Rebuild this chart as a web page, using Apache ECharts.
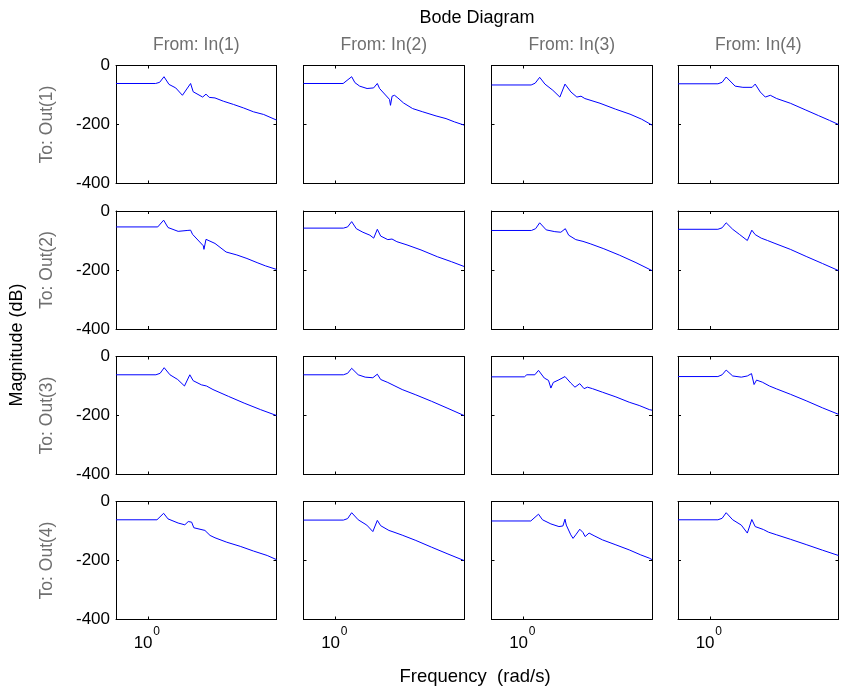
<!DOCTYPE html>
<html><head><meta charset="utf-8">
<script src="https://cdn.jsdelivr.net/npm/echarts@6/dist/echarts.min.js"></script>
<style>html,body{margin:0;padding:0;background:#fff}#c{width:841px;height:688px}</style>
</head><body><div id="c"></div>
<script>
// Frequency (rad/s) and magnitude (dB) pairs, one array per I/O pair
const m11 = [[0.562,-61],[1.145,-61],[1.230,-57],[1.330,-38],[1.454,-64],[1.641,-76],[1.851,-101],[2.143,-61],[2.244,-89],[2.661,-107],[2.825,-97],[2.992,-108],[3.319,-110],[3.855,-121],[4.624,-132],[5.546,-144],[6.622,-157],[7.943,-166],[10,-185]];
const m12 = [[0.562,-61],[1.145,-61],[1.334,-38],[1.413,-58],[1.540,-70],[1.758,-78],[1.977,-76],[2.113,-61],[2.200,-78],[2.630,-115],[2.676,-135],[2.754,-104],[2.877,-101],[3.055,-110],[3.381,-127],[3.981,-146],[4.772,-157],[6.060,-171],[7.244,-180],[8.414,-191],[10,-202]];
const m13 = [[0.562,-66],[1.145,-66],[1.230,-60],[1.334,-40],[1.466,-63],[1.689,-84],[1.916,-107],[2.101,-63],[2.339,-90],[2.600,-107],[2.800,-104],[3.000,-112],[3.936,-128],[5.200,-148],[6.745,-165],[8.300,-182],[10,-202]];
const m14 = [[0.562,-62],[1.150,-62],[1.240,-57],[1.334,-39],[1.567,-70],[1.800,-74],[2.126,-74],[2.244,-63],[2.460,-90],[2.692,-107],[2.944,-101],[3.300,-112],[4.217,-128],[5.500,-150],[7.000,-170],[8.500,-186],[10,-200]];
const m21 = [[0.562,-54],[1.189,-54],[1.321,-31],[1.429,-56],[1.714,-69],[2.013,-66],[2.143,-65],[2.218,-79],[2.692,-118],[2.723,-130],[2.825,-96],[3.319,-110],[4.051,-139],[4.910,-149],[5.888,-161],[7.063,-175],[8.204,-186],[10,-198]];
const m22 = [[0.562,-58],[1.150,-58],[1.240,-54],[1.334,-36],[1.450,-60],[1.631,-72],[1.850,-82],[1.980,-92],[2.113,-62],[2.244,-85],[2.550,-97],[2.750,-95],[3.000,-104],[3.600,-115],[4.624,-132],[6.200,-155],[8.000,-172],[10,-188]];
const m23 = [[0.562,-66],[1.150,-66],[1.240,-60],[1.334,-40],[1.500,-64],[1.750,-70],[1.950,-72],[2.113,-60],[2.244,-82],[2.550,-97],[2.900,-103],[3.300,-111],[4.217,-128],[5.600,-150],[7.500,-175],[10,-202]];
const m24 = [[0.562,-62],[1.150,-62],[1.240,-57],[1.334,-40],[1.500,-62],[1.700,-80],[1.950,-100],[2.113,-65],[2.244,-80],[2.500,-92],[2.800,-100],[3.200,-110],[4.217,-130],[5.600,-154],[7.500,-178],[10,-202]];
const m31 = [[0.562,-62],[1.150,-62],[1.240,-57],[1.334,-38],[1.480,-62],[1.700,-78],[1.920,-100],[2.113,-62],[2.244,-82],[2.600,-96],[2.850,-100],[3.200,-112],[4.217,-135],[5.600,-158],[7.500,-180],[10,-200]];
const m32 = [[0.562,-62],[1.150,-62],[1.240,-57],[1.334,-40],[1.500,-62],[1.700,-70],[1.950,-72],[2.113,-60],[2.244,-78],[2.550,-88],[2.900,-100],[3.300,-112],[4.217,-130],[5.600,-152],[7.500,-176],[10,-200]];
const m33 = [[0.562,-69],[1.014,-69],[1.059,-62],[1.223,-62],[1.306,-47],[1.449,-73],[1.563,-81],[1.631,-107],[1.703,-88],[1.884,-79],[2.101,-68],[2.331,-90],[2.512,-104],[2.738,-92],[2.958,-109],[3.144,-104],[3.436,-109],[4.111,-121],[5.236,-137],[6.645,-155],[7.943,-166],[9.528,-180],[10,-182]];
const m34 = [[0.562,-68],[1.150,-68],[1.240,-62],[1.334,-46],[1.500,-66],[1.750,-70],[1.950,-66],[2.101,-58],[2.200,-95],[2.300,-80],[2.550,-87],[2.900,-100],[3.300,-110],[4.217,-128],[5.600,-150],[7.500,-174],[10,-196]];
const m41 = [[0.562,-62],[1.172,-62],[1.321,-40],[1.429,-59],[1.714,-73],[1.932,-79],[2.054,-68],[2.183,-70],[2.270,-89],[2.770,-98],[3.037,-115],[3.319,-123],[4.098,-138],[5.218,-152],[6.622,-168],[8.463,-183],[10,-197]];
const m42 = [[0.562,-63],[1.150,-63],[1.240,-58],[1.334,-38],[1.500,-62],[1.750,-80],[1.950,-102],[2.113,-64],[2.244,-82],[2.600,-98],[2.850,-104],[3.300,-114],[4.217,-132],[5.600,-155],[7.500,-178],[10,-200]];
const m43 = [[0.562,-66],[1.138,-66],[1.306,-43],[1.404,-62],[1.631,-76],[1.884,-85],[2.023,-83],[2.101,-60],[2.150,-80],[2.331,-113],[2.427,-125],[2.547,-113],[2.738,-94],[2.900,-105],[3.013,-119],[3.236,-107],[3.540,-116],[4.111,-130],[5.236,-147],[6.645,-164],[8.175,-181],[9.528,-192],[10,-197]];
const m44 = [[0.562,-62],[1.150,-62],[1.240,-57],[1.334,-38],[1.500,-62],[1.750,-80],[1.950,-107],[2.113,-61],[2.244,-85],[2.600,-95],[2.850,-104],[3.300,-113],[4.217,-128],[5.600,-146],[7.500,-165],[10,-183]];

const inputs = ['From: In(1)','From: In(2)','From: In(3)','From: In(4)'];
const outputs = ['To: Out(1)','To: Out(2)','To: Out(3)','To: Out(4)'];
const xTicks = [1];
const xTickBase = '10', xTickExp = '0';
const freqMin = 0.5623, freqMax = 10;
const panels = [[m11,m12,m13,m14],[m21,m22,m23,m24],[m31,m32,m33,m34],[m41,m42,m43,m44]];

const colLeft = [116, 303.5, 491.5, 678];
const colW = 160.5;
const rowTop = [65.5, 211, 356.5, 501.5];
const rowH = 118;
const FONT = 'Liberation Sans, Arial, sans-serif';
const FS = 17;

const grid = [], xAxis = [], yAxis = [], series = [], graphic = [];
function logAxis(g, pos, labelOpt, lineShow) {
  return {
    type: 'log', logBase: 10, gridIndex: g, position: pos, min: freqMin, max: freqMax,
    axisLine: {show: lineShow, onZero: false, lineStyle: {color: '#000', width: 1}},
    axisTick: {show: lineShow, inside: true, length: 3, lineStyle: {color: '#000', width: 1}, customValues: xTicks},
    minorTick: {show: false}, splitLine: {show: false},
    axisLabel: labelOpt
  };
}
for (let r = 0; r < 4; r++) {
  for (let c = 0; c < 4; c++) {
    const g = r * 4 + c;
    grid.push({left: colLeft[c], top: rowTop[r], width: colW, height: rowH, show: false, containLabel: false});
    xAxis.push(logAxis(g, 'bottom', {
      show: r === 3, customValues: xTicks, margin: 15,
      formatter: function () { return '{b|' + xTickBase + '}'; },
      rich: {b: {fontSize: FS, fontFamily: FONT, color: '#000', padding: [0, 10, 0, 0]}}
    }, true));
    xAxis.push(logAxis(g, 'top', {show: false}, true));
    ['left', 'right'].forEach(function (pos) {
      yAxis.push({
        type: 'value', gridIndex: g, position: pos, min: -400, max: 0, interval: 200,
        axisLine: {show: true, onZero: false, lineStyle: {color: '#000', width: 1}},
        axisTick: {show: true, inside: true, length: 3, lineStyle: {color: '#000', width: 1}},
        splitLine: {show: false},
        axisLabel: {show: pos === 'left' && c === 0, fontSize: FS, fontFamily: FONT, color: '#000', margin: 6}
      });
    });
    series.push({
      type: 'line', xAxisIndex: g * 2, yAxisIndex: g * 2, data: panels[r][c],
      showSymbol: false, symbol: 'none', clip: true, animation: false,
      lineStyle: {color: '#0000ff', width: 1}
    });
  }
}
// superscript exponent of the 10^0 tick labels on the bottom row
for (let c = 0; c < 4; c++) {
  const g = 12 + c;
  const ax = logAxis(g, 'bottom', {
    show: true, customValues: xTicks, margin: 6,
    formatter: function () { return '{s|' + xTickExp + '}'; },
    rich: {s: {fontSize: 12, fontFamily: FONT, color: '#000', padding: [0, 0, 0, 17]}}
  }, false);
  xAxis.push(ax);
}
for (let c = 0; c < 4; c++) {
  graphic.push({type: 'text', x: colLeft[c] + colW / 2, y: 45,
    style: {text: inputs[c], fill: '#6f6f6f', font: '17.5px ' + FONT, textAlign: 'center', textVerticalAlign: 'middle'}});
}
for (let r = 0; r < 4; r++) {
  graphic.push({type: 'text', x: 47, y: rowTop[r] + rowH / 2, rotation: Math.PI / 2,
    style: {text: outputs[r], fill: '#6f6f6f', font: '17.5px ' + FONT, textAlign: 'center', textVerticalAlign: 'middle'}});
}
graphic.push({type: 'text', x: 477, y: 18,
  style: {text: 'Bode Diagram', fill: '#000', font: '18px ' + FONT, textAlign: 'center', textVerticalAlign: 'middle'}});
graphic.push({type: 'text', x: 475, y: 677,
  style: {text: 'Frequency  (rad/s)', fill: '#000', font: '18.5px ' + FONT, textAlign: 'center', textVerticalAlign: 'middle'}});
graphic.push({type: 'text', x: 17, y: 345, rotation: Math.PI / 2,
  style: {text: 'Magnitude (dB)', fill: '#000', font: '18px ' + FONT, textAlign: 'center', textVerticalAlign: 'middle'}});

const chart = echarts.init(document.getElementById('c'), null, {renderer: 'canvas'});
chart.setOption({animation: false, backgroundColor: '#fff', grid: grid, xAxis: xAxis, yAxis: yAxis, series: series, graphic: graphic});
</script></body></html>
